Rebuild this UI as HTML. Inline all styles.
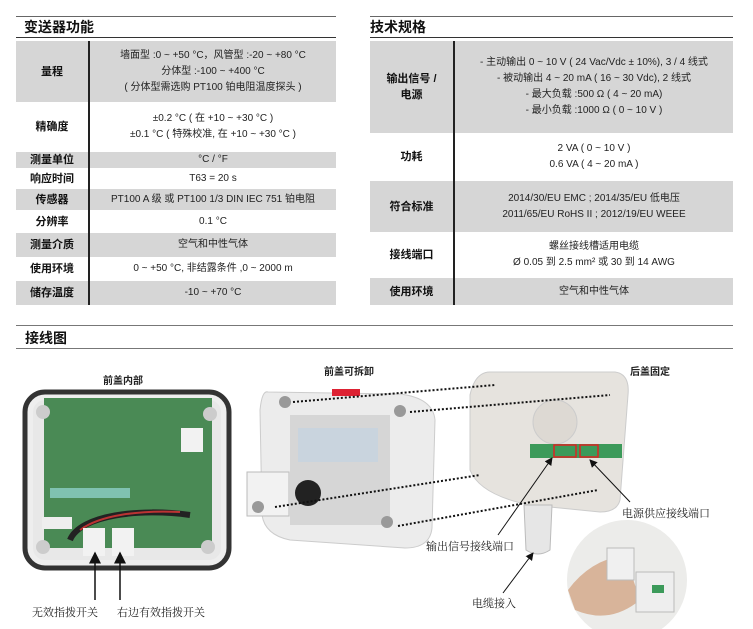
<!DOCTYPE html>
<html><head><meta charset="utf-8"><style>
*{margin:0;padding:0;box-sizing:border-box}
body{width:753px;height:629px;background:#fff;position:relative;overflow:hidden;font-family:"Liberation Sans","Noto Sans CJK SC",sans-serif;color:#222}
.t{position:absolute}
.title{font-weight:bold;font-size:14px;line-height:14px;color:#111}
.hl{position:absolute;height:2px;background:#555}
.tbl{position:absolute;border-collapse:collapse;font-size:10px}
.tbl td{text-align:center;vertical-align:middle;line-height:16px;padding:0}
.tbl td.k{font-weight:bold;font-size:11px;border-right:2px solid #222;color:#111}
.tbl tr.g td{background:#d6d6d6}
.lab{position:absolute;font-size:11px;color:#222;font-family:"Liberation Serif","Noto Serif CJK SC",serif;white-space:nowrap}
.bl{position:absolute;font-size:10px;font-weight:bold;white-space:nowrap}
</style></head><body>

<div class="hl" style="left:16px;top:16px;width:320px;height:1px;background:#666"></div>
<div class="t title" style="left:24px;top:20px">变送器功能</div>
<div class="hl" style="left:16px;top:37px;width:320px;height:1px;background:#333"></div>
<table class="tbl" style="left:16px;top:41px;width:320px">
<tr class="g" style="height:61px"><td class="k" style="width:73px">量程</td><td>墙面型 :0 ~ +50 °C，风管型 :-20 ~ +80 °C<br>分体型 :-100 ~ +400 °C<br>( 分体型需选购 PT100 铂电阻温度探头 )</td></tr>
<tr style="height:50px"><td class="k">精确度</td><td>±0.2 °C ( 在 +10 ~ +30 °C )<br>±0.1 °C ( 特殊校准, 在 +10 ~ +30 °C )</td></tr>
<tr class="g" style="height:16px"><td class="k">测量单位</td><td>°C / °F</td></tr>
<tr style="height:21px"><td class="k">响应时间</td><td>T63 = 20 s</td></tr>
<tr class="g" style="height:21px"><td class="k">传感器</td><td>PT100 A 级 或 PT100 1/3 DIN IEC 751 铂电阻</td></tr>
<tr style="height:23px"><td class="k">分辨率</td><td>0.1 °C</td></tr>
<tr class="g" style="height:24px"><td class="k">测量介质</td><td>空气和中性气体</td></tr>
<tr style="height:24px"><td class="k">使用环境</td><td>0 ~ +50 °C, 非结露条件 ,0 ~ 2000 m</td></tr>
<tr class="g" style="height:24px"><td class="k">储存温度</td><td>-10 ~ +70 °C</td></tr>
</table>

<div class="hl" style="left:370px;top:16px;width:363px;height:1px;background:#666"></div>
<div class="t title" style="left:370px;top:20px">技术规格</div>
<div class="hl" style="left:370px;top:37px;width:363px;height:1px;background:#333"></div>
<table class="tbl" style="left:370px;top:41px;width:363px">
<tr class="g" style="height:92px"><td class="k" style="width:84px">输出信号 /<br>电源</td><td>- 主动输出 0 ~ 10 V ( 24 Vac/Vdc ± 10%), 3 / 4 线式<br>- 被动输出 4 ~ 20 mA ( 16 ~ 30 Vdc), 2 线式<br>- 最大负载 :500 Ω ( 4 ~ 20 mA)<br>- 最小负载 :1000 Ω ( 0 ~ 10 V )</td></tr>
<tr style="height:48px"><td class="k">功耗</td><td>2 VA ( 0 ~ 10 V )<br>0.6 VA ( 4 ~ 20 mA )</td></tr>
<tr class="g" style="height:51px"><td class="k">符合标准</td><td>2014/30/EU EMC ; 2014/35/EU 低电压<br>2011/65/EU RoHS II ; 2012/19/EU WEEE</td></tr>
<tr style="height:46px"><td class="k">接线端口</td><td>螺丝接线槽适用电缆<br>Ø 0.05 到 2.5 mm² 或 30 到 14 AWG</td></tr>
<tr class="g" style="height:27px"><td class="k">使用环境</td><td>空气和中性气体</td></tr>
</table>

<div class="hl" style="left:16px;top:325px;width:717px;height:1px;background:#777"></div>
<div class="t title" style="left:25px;top:331px">接线图</div>
<div class="hl" style="left:16px;top:348px;width:717px;height:1px;background:#777"></div>

<div class="bl" style="left:103px;top:372px">前盖内部</div>
<div class="bl" style="left:324px;top:363px">前盖可拆卸</div>
<div class="bl" style="left:630px;top:363px">后盖固定</div>

<svg class="t" style="left:0;top:0" width="753" height="629">
<defs><marker id="a" markerWidth="8" markerHeight="8" refX="7" refY="4" orient="auto"><path d="M0,0L8,4L0,8z" fill="#111"/></marker></defs>
<rect x="25" y="392" width="204" height="176" rx="20" fill="#eee" stroke="#333" stroke-width="5"/>
<rect x="33" y="400" width="188" height="160" rx="12" fill="#e8e8e8"/>
<rect x="44" y="398" width="168" height="150" fill="#4a8a55"/>
<rect x="50" y="488" width="80" height="10" fill="#7fc2b0"/>
<path d="M70,540 C80,515 140,508 190,515" stroke="#222" stroke-width="6" fill="none"/>
<path d="M80,530 C100,515 140,510 180,512" stroke="#b33" stroke-width="2" fill="none"/>
<rect x="83" y="528" width="22" height="28" fill="#f2f2f2"/>
<rect x="112" y="528" width="22" height="28" fill="#f2f2f2"/>
<rect x="181" y="428" width="22" height="24" fill="#f2f2f2"/>
<rect x="42" y="517" width="30" height="12" fill="#eee"/>
<circle cx="43" cy="412" r="7" fill="#ccc"/><circle cx="210" cy="414" r="7" fill="#ccc"/>
<circle cx="43" cy="547" r="7" fill="#ccc"/><circle cx="208" cy="547" r="7" fill="#ccc"/>
<line x1="95" y1="600" x2="95" y2="553" stroke="#111" stroke-width="1.5" marker-end="url(#a)"/>
<line x1="120" y1="600" x2="120" y2="553" stroke="#111" stroke-width="1.5" marker-end="url(#a)"/>
<path d="M268,392 L400,394 Q433,398 435,420 L432,528 Q430,548 405,548 L290,540 Q265,535 262,515 L260,410 Q262,390 268,392z" fill="#ececec" stroke="#ccc"/>
<rect x="290" y="415" width="100" height="110" fill="#d6d6d6"/>
<rect x="298" y="428" width="80" height="34" fill="#c9d4de"/>
<rect x="332" y="389" width="28" height="7" fill="#d23"/>
<rect x="247" y="472" width="42" height="44" fill="#f2f2f2" stroke="#bbb"/>
<circle cx="308" cy="493" r="13" fill="#222"/>
<circle cx="285" cy="402" r="6" fill="#999"/><circle cx="400" cy="411" r="6" fill="#999"/><circle cx="258" cy="507" r="6" fill="#999"/><circle cx="387" cy="522" r="6" fill="#999"/>
<path d="M490,372 L615,372 Q630,374 628,395 L620,500 Q617,512 600,512 L530,505 Q480,495 470,470 L470,395 Q475,372 490,372z" fill="#e6e3de" stroke="#ccc"/>
<circle cx="555" cy="422" r="22" fill="#ddd9d3" stroke="#ccc"/>
<rect x="530" y="444" width="92" height="14" fill="#3c9a5a"/>
<rect x="554" y="445" width="22" height="12" fill="none" stroke="#d22" stroke-width="1.5"/>
<rect x="580" y="445" width="18" height="12" fill="none" stroke="#d22" stroke-width="1.5"/>
<path d="M524,505 L552,505 L550,550 Q538,558 526,550z" fill="#e6e6e6" stroke="#bbb"/>
<g stroke="#111" stroke-width="2" stroke-dasharray="2,2">
<line x1="293" y1="402" x2="495" y2="385"/><line x1="410" y1="412" x2="610" y2="395"/>
<line x1="275" y1="507" x2="480" y2="475"/><line x1="398" y1="526" x2="598" y2="490"/>
</g>
<line x1="498" y1="535" x2="552" y2="458" stroke="#111" marker-end="url(#a)"/>
<line x1="630" y1="502" x2="590" y2="460" stroke="#111" marker-end="url(#a)"/>
<line x1="503" y1="593" x2="533" y2="553" stroke="#111" marker-end="url(#a)"/>
<circle cx="627" cy="580" r="60" fill="#ececea"/>
<path d="M568,590 Q590,560 625,555 L640,600 Q610,625 575,610z" fill="#d8b49a"/>
<rect x="607" y="548" width="27" height="32" fill="#f0f0f0" stroke="#bbb"/>
<rect x="636" y="572" width="38" height="40" fill="#eee" stroke="#bbb"/>
<rect x="652" y="585" width="12" height="8" fill="#3c9a5a"/>
</svg>

<div class="lab" style="left:32px;top:604px">无效指拨开关</div>
<div class="lab" style="left:117px;top:604px">右边有效指拨开关</div>
<div class="lab" style="left:622px;top:505px">电源供应接线端口</div>
<div class="lab" style="left:426px;top:538px">输出信号接线端口</div>
<div class="lab" style="left:472px;top:595px">电缆接入</div>
</body></html>
